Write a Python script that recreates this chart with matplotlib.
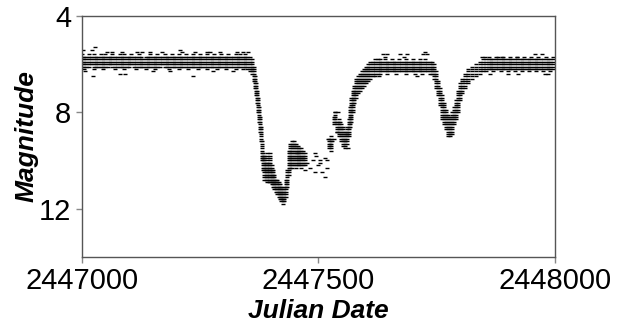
import numpy as np
import matplotlib
matplotlib.use("Agg")
import matplotlib.pyplot as plt

JD0 = 2447000

# Observed brightness range per date (days after JD 2447000): brightest and faintest estimate
node_day = [0, 5, 10, 15, 20, 25, 30, 35, 40, 45, 50, 55, 60, 65, 70, 75, 80, 85, 90, 95,
            100, 105, 110, 115, 120, 125, 130, 135, 140, 145, 150, 155, 160, 165, 170, 175,
            180, 185, 190, 195, 200, 205, 210, 215, 220, 225, 230, 235, 240, 245, 250, 255,
            260, 265, 270, 275, 280, 285, 290, 295, 300, 305, 310, 315, 320, 325, 330, 335,
            340, 345, 350, 355,
            360, 364, 367, 369, 371, 373, 375, 377, 379, 381, 383, 386, 389, 392, 395, 398,
            401, 404, 407, 410, 413, 416, 419, 422, 425, 428, 431, 434, 437, 440, 444, 448,
            452, 456, 460, 464, 468, 472,
            522, 527, 532, 536, 540, 544, 548, 552, 556, 560, 564, 567, 570, 573, 576, 580,
            584, 588, 592, 596, 600, 605, 610, 615, 620, 625, 630,
            635, 640, 645, 650, 655, 660, 665, 670, 675, 680, 685, 690, 695, 700, 705, 710,
            715, 720, 725, 730, 735,
            740, 744, 749, 753, 757, 761, 766, 770, 774, 778, 782, 787, 791, 795, 799, 804,
            810, 816, 825, 833, 841, 848,
            855, 860, 865, 870, 875, 880, 885, 890, 895, 900, 905, 910, 915, 920, 925, 930,
            935, 940, 945, 950, 955, 960, 965, 970, 975, 980, 985, 990, 995]
mag_bright = [5.6, 5.7, 5.7, 5.6, 5.7, 5.6, 5.7, 5.7, 5.6, 5.7, 5.6, 5.7, 5.7, 5.6, 5.7, 5.7, 5.6, 5.7, 5.6, 5.7,
              5.7, 5.6, 5.7, 5.7, 5.6, 5.7, 5.8, 5.7, 5.7, 5.6, 5.7, 5.7, 5.6, 5.7, 5.7, 5.6,
              5.7, 5.7, 5.6, 5.7, 5.7, 5.6, 5.7, 5.7, 5.6, 5.7, 5.7, 5.6, 5.7, 5.7, 5.6, 5.7,
              5.7, 5.6, 5.7, 5.7, 5.6, 5.7, 5.7, 5.6, 5.7, 5.7, 5.6, 5.7, 5.7, 5.6, 5.7, 5.6,
              5.7, 5.6, 5.7, 5.7,
              5.8, 6.1, 6.5, 6.8, 7.1, 7.4, 7.8, 8.2, 8.6, 9.2, 9.7, 9.8, 10.1, 9.7, 10.1, 9.7,
              10.2, 10.4, 10.6, 10.8, 10.8, 10.9, 11.0, 11.1, 11.2, 11.1, 10.8, 10.4, 9.6, 9.3, 9.2, 9.2,
              9.3, 9.4, 9.5, 9.5, 9.6, 9.7,
              9.1, 9.0, 8.2, 8.0, 8.4, 8.3, 8.5, 8.7, 8.8, 8.6, 8.3, 7.8, 7.4, 7.1, 6.9, 6.6,
              6.5, 6.4, 6.3, 6.2, 6.1, 6.0, 5.9, 5.9, 5.8, 5.8, 5.8,
              5.9, 5.8, 5.9, 5.9, 5.8, 5.9, 5.9, 5.8, 5.9, 5.9, 5.8, 5.9, 5.9, 5.8, 5.9, 5.9,
              5.8, 5.9, 5.8, 5.9, 5.9,
              5.9, 6.0, 6.3, 6.7, 7.0, 7.3, 7.6, 7.9, 8.1, 8.2, 8.0, 7.8, 7.5, 7.1, 6.8, 6.6,
              6.4, 6.2, 6.1, 6.0, 5.9, 5.8,
              5.8, 5.7, 5.8, 5.8, 5.7, 5.8, 5.8, 5.7, 5.8, 5.8, 5.7, 5.8, 5.8, 5.7, 5.8, 5.8,
              5.7, 5.8, 5.8, 5.7, 5.8, 5.8, 5.7, 5.8, 5.8, 5.7, 5.8, 5.8, 5.7]
mag_faint = [6.1, 6.2, 6.1, 6.1, 6.0, 6.2, 6.1, 6.1, 6.1, 6.2, 6.1, 6.1, 6.0, 6.1, 6.2, 6.1, 6.1, 6.1, 6.2, 6.1,
             6.1, 6.0, 6.1, 6.2, 6.1, 6.1, 6.1, 6.2, 6.1, 6.1, 6.1, 6.2, 6.1, 6.1, 6.0, 6.1,
             6.1, 6.2, 6.1, 6.1, 6.1, 6.2, 6.1, 6.1, 6.1, 6.2, 6.1, 6.1, 6.1, 6.2, 6.1, 6.1,
             6.1, 6.2, 6.1, 6.1, 6.1, 6.2, 6.1, 6.1, 6.1, 6.2, 6.1, 6.1, 6.1, 6.2, 6.1, 6.1,
             6.2, 6.1, 6.2, 6.3,
             6.4, 6.7, 7.0, 7.3, 7.6, 8.0, 8.4, 8.8, 9.2, 10.0, 10.4, 10.8, 10.8, 10.9, 10.9, 10.9,
             11.0, 11.1, 11.2, 11.3, 11.4, 11.5, 11.6, 11.7, 11.8, 11.7, 11.5, 11.1, 10.6, 10.3, 10.3, 10.2,
             10.3, 10.2, 10.2, 10.3, 10.2, 10.2,
             9.5, 9.6, 8.5, 8.4, 8.8, 9.0, 9.2, 9.4, 9.5, 9.3, 9.0, 8.6, 8.4, 8.0, 7.6, 7.4,
             7.2, 7.1, 7.0, 6.9, 6.8, 6.7, 6.6, 6.5, 6.5, 6.4, 6.4,
             6.3, 6.3, 6.4, 6.3, 6.3, 6.3, 6.4, 6.3, 6.3, 6.3, 6.4, 6.3, 6.3, 6.3, 6.4, 6.3,
             6.3, 6.4, 6.3, 6.3, 6.4,
             6.4, 6.6, 7.0, 7.3, 7.7, 8.3, 8.5, 8.7, 9.0, 9.0, 8.9, 8.5, 8.3, 8.0, 7.5, 7.2,
             7.0, 6.8, 6.6, 6.5, 6.4, 6.3,
             6.3, 6.2, 6.2, 6.3, 6.2, 6.2, 6.3, 6.2, 6.2, 6.3, 6.2, 6.2, 6.3, 6.2, 6.2, 6.3,
             6.2, 6.2, 6.3, 6.2, 6.2, 6.3, 6.2, 6.2, 6.3, 6.2, 6.2, 6.3, 6.2]

# Isolated observations (days after JD 2447000, magnitude)
sparse_day = [3, 22, 28, 53, 64, 85, 117, 127, 144, 170, 208, 212, 239, 265, 271, 292, 328, 341, 351,
              7, 24, 81, 91, 151, 187, 235, 277, 320,
              454, 465, 475, 482, 489, 496, 499, 507, 514, 472, 493, 503, 518, 493, 503, 514, 518,
              525, 521, 528, 535, 542, 546, 553, 560, 556, 563, 539, 532,
              637, 641, 645, 673, 680, 688, 721, 725, 729, 628, 709,
              846, 852, 880, 888, 920, 958, 973, 862, 900, 922, 979, 986]
sparse_mag = [5.4, 5.4, 5.3, 5.5, 5.5, 5.5, 5.5, 5.5, 5.5, 5.5, 5.4, 5.5, 5.5, 5.5, 5.5, 5.5, 5.5, 5.5, 5.5,
              6.3, 6.5, 6.4, 6.4, 6.3, 6.3, 6.5, 6.3, 6.3,
              9.7, 9.9, 10.1, 10.3, 10.0, 9.8, 10.2, 10.5, 10.7, 10.4, 10.5, 10.1, 10.0, 9.7, 10.0, 9.9, 10.3,
              9.3, 9.1, 9.2, 8.0, 8.0, 8.4, 8.6, 8.9, 9.2, 9.5, 8.8, 9.1,
              5.6, 5.7, 5.6, 5.6, 5.7, 5.6, 5.6, 5.5, 5.6, 6.5, 6.5,
              5.7, 5.7, 5.7, 5.7, 5.7, 5.6, 5.6, 6.4, 6.4, 6.4, 6.4, 6.4]

x_ticks = [2447000, 2447500, 2448000]
x_tick_labels = ["2447000", "2447500", "2448000"]
y_ticks = [4, 8, 12]
y_tick_labels = ["4", "8", "12"]

# Expand each date's range into 0.1-mag estimates
obs_x, obs_y = [], []
for d, b, f in zip(node_day, mag_bright, mag_faint):
    n = int(round((f - b) / 0.1)) + 1
    for k in range(n):
        obs_x.append(JD0 + d)
        obs_y.append(round(b + 0.1 * k, 1))
obs_x += [JD0 + d for d in sparse_day]
obs_y += list(sparse_mag)

plt.rcParams['font.family'] = ['Liberation Sans', 'DejaVu Sans']

fig = plt.figure(figsize=(6.28, 3.31), dpi=100)
ax = fig.add_axes([0.1301, 0.2245, 0.7537, 0.7272])

ax.plot(obs_x, obs_y, linestyle='none', marker='_', markersize=2.4,
        markeredgewidth=1.0, color='black')

ax.set_xlim(2447000, 2448000)
ax.set_ylim(14, 4)
ax.set_xticks(x_ticks)
ax.set_xticklabels(x_tick_labels)
ax.set_yticks(y_ticks)
ax.set_yticklabels(y_tick_labels)

for s in ax.spines.values():
    s.set_color('#555555')
    s.set_linewidth(1.0)
ax.tick_params(axis='both', direction='out', length=4.5, width=1.0, color='#888888',
               labelsize=21, pad=3)

ax.set_xlabel('Julian Date', fontsize=19, fontweight='bold', fontstyle='italic', labelpad=3)
ax.set_ylabel('Magnitude', fontsize=19, fontweight='bold', fontstyle='italic', labelpad=0)

fig.savefig('out.png', dpi=100)
